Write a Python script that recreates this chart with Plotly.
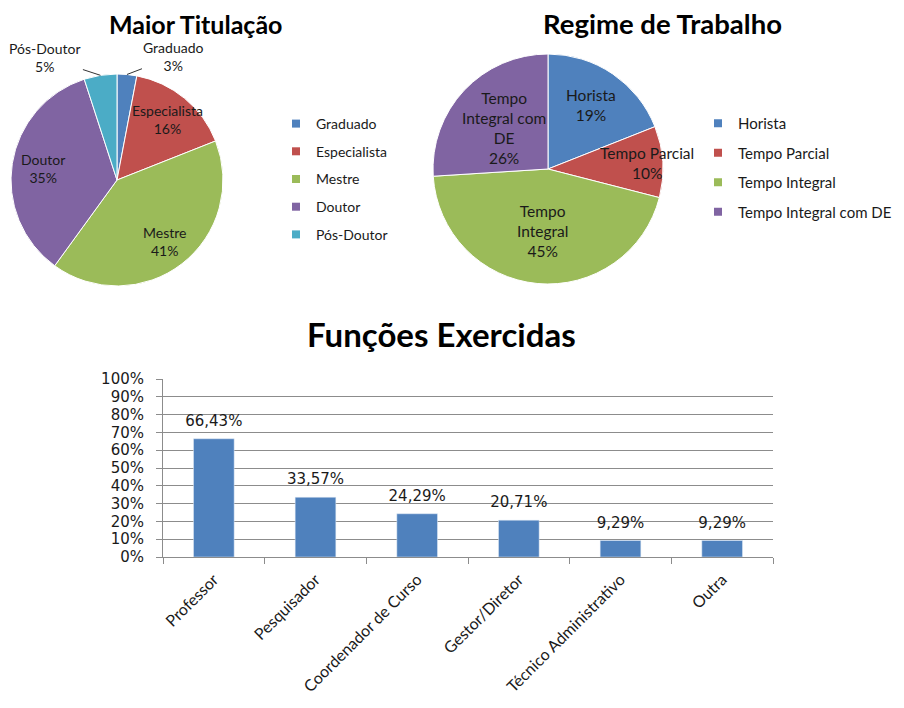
import math
import plotly.graph_objects as go

# ---- data ----
titulacao_labels = ["Graduado", "Especialista", "Mestre", "Doutor", "Pós-Doutor"]
titulacao_values = [3, 16, 41, 35, 5]

regime_labels = ["Horista", "Tempo Parcial", "Tempo Integral", "Tempo Integral com DE"]
regime_text = ["Horista", "Tempo Parcial", "Tempo<br>Integral", "Tempo<br>Integral com<br>DE"]
regime_values = [19, 10, 45, 26]

funcoes = ["Professor", "Pesquisador", "Coordenador de Curso", "Gestor/Diretor",
           "Técnico Administrativo", "Outra"]
funcoes_pct = [66.43, 33.57, 24.29, 20.71, 9.29, 9.29]

BLUE, RED, GREEN, PURPLE, AQUA = "#4F81BD", "#C0504D", "#9BBB59", "#8064A2", "#4BACC6"
TXT = "#1a1a1a"
GRID = "#8c8c8c"

# page has an 8px body margin, so the figure is 16px smaller than the window
W, H, PAD = 888, 692, 8


def px(x):
    return (x - PAD) / W


def py(y):
    return 1 - (y - PAD) / H


def pie_dom(cx, cy, r):
    return dict(x=[px(cx - r), px(cx + r)], y=[py(cy + r), py(cy - r)])


def slice_point(values, i, cx, cy, r, f):
    # point at fraction f of the radius on the middle angle of slice i (clockwise from 12h)
    a = (sum(values[:i]) + values[i] / 2) / sum(values) * 2 * math.pi
    return cx + f * r * math.sin(a), cy - f * r * math.cos(a)


# pie geometry (pixels) and label radius per slice (None = outside with leader)
P1 = (117, 180, 106)
P2 = (548, 169, 115)
P1_LABEL_R = [None, 0.745, 0.73, 0.71, None]
P1_OUTSIDE = {0: (47, -18), 4: (-55, -18)}
P2_LABEL_R = [0.67, 0.86, 0.54, 0.52]

fig = go.Figure()

## Pie 1 - Maior Titulação
fig.add_trace(go.Pie(
    labels=titulacao_labels,
    values=titulacao_values,
    sort=False,
    direction="clockwise",
    domain=pie_dom(*P1),
    marker=dict(colors=[BLUE, RED, GREEN, PURPLE, AQUA], line=dict(color="white", width=1)),
    textinfo="none",
    showlegend=False,
    hoverinfo="label+percent",
))

## Pie 2 - Regime de Trabalho
fig.add_trace(go.Pie(
    labels=regime_labels,
    values=regime_values,
    sort=False,
    direction="clockwise",
    domain=pie_dom(*P2),
    marker=dict(colors=[BLUE, RED, GREEN, PURPLE], line=dict(color="white", width=1)),
    textinfo="none",
    showlegend=False,
    hoverinfo="label+percent",
))

## Bar chart - Funções Exercidas
fig.add_trace(go.Bar(
    x=funcoes,
    y=funcoes_pct,
    marker=dict(color=BLUE),
    showlegend=False,
))
# value labels above the bars
fig.add_trace(go.Scatter(
    x=funcoes,
    y=funcoes_pct,
    mode="markers+text",
    marker=dict(size=13, opacity=0),
    texttemplate="%{y:.2f}%",
    textposition="top center",
    textfont=dict(family="DejaVu Sans", size=15, color=TXT),
    cliponaxis=False,
    showlegend=False,
    hoverinfo="skip",
))

## legend entries (square keys, one group each so spacing can be set)
for lbl, col in zip(titulacao_labels, [BLUE, RED, GREEN, PURPLE, AQUA]):
    fig.add_trace(go.Scatter(x=[None], y=[None], mode="markers", name=lbl,
                             marker=dict(symbol="square", size=8, color=col),
                             legend="legend", legendgroup="t_" + lbl))
for lbl, col in zip(regime_labels, [BLUE, RED, GREEN, PURPLE]):
    fig.add_trace(go.Scatter(x=[None], y=[None], mode="markers", name=lbl,
                             marker=dict(symbol="square", size=8, color=col),
                             legend="legend2", legendgroup="r_" + lbl))

## pie labels
annotations = []
tot1 = sum(titulacao_values)
for i, lbl in enumerate(titulacao_labels):
    txt = f"{lbl}<br>{titulacao_values[i] / tot1:.0%}"
    font = dict(family="Lato", size=14, color=TXT)
    if P1_LABEL_R[i] is None:
        ex, ey = slice_point(titulacao_values, i, *P1, 1.0)
        ax, ay = P1_OUTSIDE[i]
        annotations.append(dict(text=txt, x=px(ex), y=py(ey), xref="paper", yref="paper",
                                showarrow=True, arrowhead=0, arrowwidth=1, arrowcolor="#333",
                                ax=ax, ay=ay, standoff=0, font=font))
    else:
        lx, ly = slice_point(titulacao_values, i, *P1, P1_LABEL_R[i])
        annotations.append(dict(text=txt, x=px(lx), y=py(ly), xref="paper", yref="paper",
                                xanchor="center", yanchor="middle",
                                showarrow=False, font=font))

tot2 = sum(regime_values)
for i, lbl in enumerate(regime_text):
    lx, ly = slice_point(regime_values, i, *P2, P2_LABEL_R[i])
    annotations.append(dict(text=f"{lbl}<br>{regime_values[i] / tot2:.0%}",
                            x=px(lx), y=py(ly), xref="paper", yref="paper",
                            xanchor="center", yanchor="middle",
                            showarrow=False, font=dict(family="Lato", size=15.5, color=TXT)))

## titles
annotations += [
    dict(text="<b>Maior Titulação</b>", x=px(195), y=py(24), xanchor="center", yanchor="middle",
         xref="paper", yref="paper", showarrow=False,
         font=dict(family="Lato", size=25, color="black")),
    dict(text="<b>Regime de Trabalho</b>", x=px(662), y=py(23), xanchor="center", yanchor="middle",
         xref="paper", yref="paper", showarrow=False,
         font=dict(family="Lato", size=27.5, color="black")),
    dict(text="<b>Funções Exercidas</b>", x=px(441), y=py(334), xanchor="center", yanchor="middle",
         xref="paper", yref="paper", showarrow=False,
         font=dict(family="Lato", size=33, color="black")),
]

fig.update_layout(
    width=W, height=H,
    margin=dict(l=0, r=0, t=0, b=0, autoexpand=False),
    paper_bgcolor="white",
    plot_bgcolor="white",
    separators=",.",
    bargap=0.6,
    font=dict(family="Lato", color=TXT),
    legend=dict(x=px(276), y=py(108), xanchor="left", yanchor="top",
                tracegroupgap=6.5, itemclick=False,
                font=dict(family="Lato", size=14, color=TXT)),
    legend2=dict(x=px(698), y=py(107), xanchor="left", yanchor="top",
                 tracegroupgap=7, itemclick=False,
                 font=dict(family="Lato", size=15, color=TXT)),
    xaxis=dict(
        type="category",
        domain=[px(163), px(773)],
        anchor="y",
        tickangle=-45,
        tickfont=dict(family="Lato", size=16, color=TXT),
        showline=True, linecolor=GRID,
        ticks="outside", ticklen=6, tickcolor=GRID,
        tickson="boundaries",
        ticklabelstandoff=6,
        fixedrange=True,
    ),
    yaxis=dict(
        domain=[py(557), py(379)],
        anchor="x",
        range=[0, 100], dtick=10, ticksuffix="%",
        tickfont=dict(family="DejaVu Sans", size=15, color=TXT),
        showgrid=True, gridcolor=GRID, gridwidth=1,
        showline=True, linecolor=GRID,
        ticks="outside", ticklen=6, tickcolor=GRID,
        ticklabelstandoff=9,
        zeroline=False,
        fixedrange=True,
    ),
    annotations=annotations,
)

fig.write_html("out.html")
